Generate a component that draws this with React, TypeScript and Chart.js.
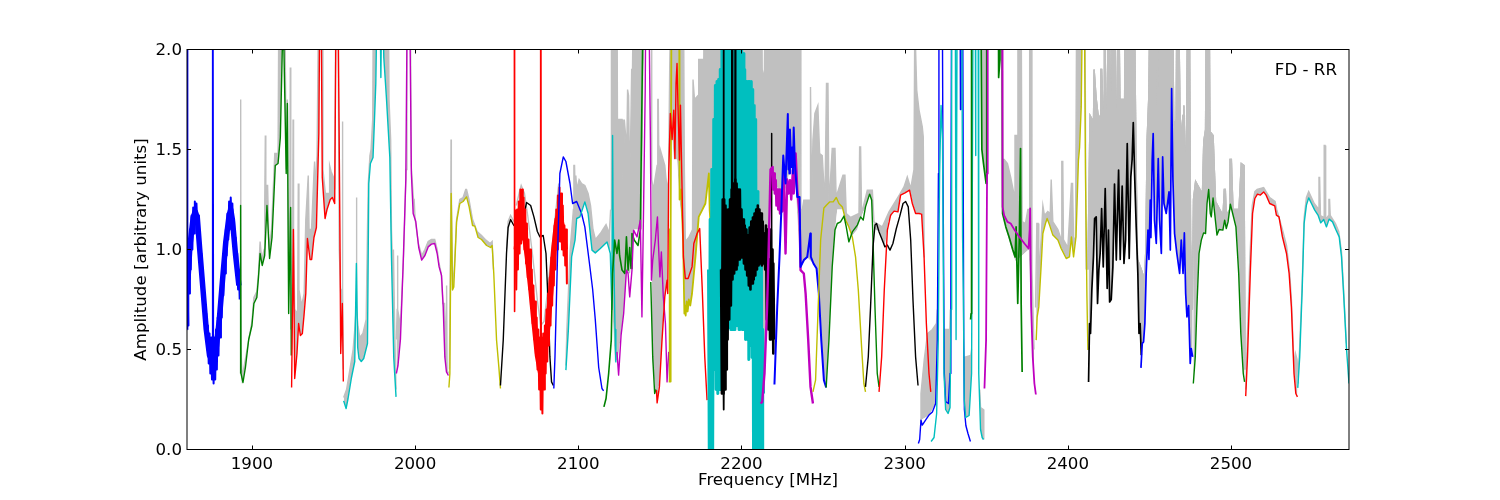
import React, { useEffect, useRef } from "react";
import { Chart, registerables } from "chart.js";
Chart.register(...registerables);

type P = number[];
const xTickValues = [1900, 2000, 2100, 2200, 2300, 2400, 2500];
const yTickValues = [0, 0.5, 1, 1.5, 2];
const xLabel = "Frequency [MHz]";
const yLabel = "Amplitude [arbitrary units]";
const note = "FD - RR";

// noisy stretches: frequency, upper amplitude, lower amplitude
const blueBand: P[] = [[1860.6,1.0,.62],[1861,1.03,.78],[1862,1.1,.9],[1863,1.17,1.0],[1864,1.21,1.08],[1865,1.24,1.13],[1866,1.23,1.12],[1867,1.17,1.04],[1868,1.08,.93],[1869,.98,.82],[1870,.87,.72],[1871,.77,.6],[1872,.68,.5],[1873,.62,.43],[1874,.58,.38],[1875,.56,.35],[1876,.54,.33],[1877,.56,.35],[1878,.6,.4],[1879,.66,.47],[1880,.73,.56],[1881,.82,.66],[1882,.92,.77],[1883,1.02,.88],[1884,1.1,.97],[1885,1.18,1.05],[1886,1.24,1.1],[1887,1.26,1.13],[1888,1.23,1.07],[1889,1.15,.98],[1890,1.06,.88],[1891,.98,.8],[1892,.9,.75]];
const blueCore: P[] = [[1860.8,.85],[1862,1.02],[1864,1.16],[1865.2,1.19],[1866.5,1.16],[1868,1.0],[1870,.8],[1872,.6],[1874,.47],[1876,.44],[1878,.5],[1880,.65],[1882,.85],[1884,1.04],[1886,1.17],[1887,1.2],[1888,1.15],[1890,.97],[1892,.82]];
const redBand: P[] = [[2061.5,1.2,.8],[2062.5,1.2,.9],[2063.5,1.24,.98],[2064.5,1.3,1.03],[2065.5,1.3,1.05],[2066.5,1.26,1.0],[2067.5,1.2,.93],[2068.5,1.13,.86],[2069.5,1.05,.8],[2070.5,1.0,.72],[2071.5,.9,.63],[2072.5,.82,.55],[2073.5,.74,.48],[2074.5,.66,.4],[2075.5,.6,.3],[2076.5,.56,.2],[2077.5,.56,.18],[2078.5,.58,.3],[2079.5,.62,.38],[2080.5,.7,.44],[2081.5,.78,.52],[2082.5,.86,.62],[2083.5,.96,.72],[2084.5,1.04,.82],[2085.5,1.12,.9],[2086.5,1.2,1.0],[2087.5,1.27,1.04],[2088.5,1.31,1.04],[2089.5,1.28,1.0],[2090.5,1.22,.97],[2091.5,1.12,.92],[2092.5,1.1,.83]];
const redCore: P[] = [[2062,1.0],[2064,1.15],[2065,1.18],[2067,1.08],[2069,.95],[2071,.8],[2073,.63],[2075,.47],[2077,.38],[2079,.46],[2081,.6],[2083,.78],[2085,1.0],[2087,1.15],[2088.5,1.18],[2090,1.12],[2092,1.0]];
const cyanBand: P[] = [[2179.8,.9,-.1],[2180.8,1.15,-.1],[2181.8,1.4,-.1],[2183,1.65,.4],[2184,1.82,.3],[2185,1.84,.28],[2186,1.85,.3],[2187,1.9,.3],[2188,2.4,.3],[2189,2.4,.35],[2190,2.4,.55],[2191,2.4,.62],[2192,2.4,.61],[2193,2.4,.6],[2194,2.4,.6],[2195,2.4,.6],[2196,2.4,.62],[2197,2.4,.62],[2198,2.4,.6],[2199,2.4,.64],[2200,2.4,.6],[2201,1.98,.6],[2202,1.9,.55],[2203,1.84,.55],[2204,1.84,.45],[2205,1.84,.52],[2206,1.84,.46],[2206.9,1.8,-.1],[2207.8,1.72,-.1],[2208.7,1.65,-.1],[2209.6,1.29,-.1],[2210.5,1.2,-.1],[2211.4,1.1,-.1],[2212.2,.95,-.1],[2213,.6,.28]];
const blackBand: P[] = [[2187.5,.9,.28],[2188.5,1.25,.28],[2189.4,1.25,.3],[2190.2,1.22,.4],[2191,1.2,.55],[2192,1.2,.65],[2193,1.25,.72],[2194,1.3,.85],[2195,1.33,.88],[2196.2,1.35,.9],[2197,1.33,.92],[2198,1.3,.95],[2199,1.3,.96],[2200,1.2,.96],[2201,1.15,.93],[2202,1.12,.9],[2203,1.1,.87],[2204,1.07,.82],[2205,1.11,.8],[2206,1.14,.83],[2207,1.16,.85],[2208,1.18,.87],[2209,1.2,.9],[2210,1.22,.92],[2211,1.2,.93],[2212,1.18,.92],[2213,1.14,.93],[2214,1.08,.9],[2215,1.12,.65],[2216,1.1,.6],[2217,.95,.55],[2218,1.1,.6],[2219,1.0,.48],[2219.5,.93,.55]];

// narrow peaks above the noisy stretches
const blueEdge: P[] = [[1860.5,.6],[1860.55,2.4]];
const blueSpike: P[] = [[1875.8,.5],[1876,2.4],[1876.3,.5]];
const redEdge: P[] = [[2060.8,2.4],[2060.95,.69],[2061.3,1.0]];
const redSpike: P[] = [[2076.8,.5],[2077,2.4],[2077.2,.5]];
const blackSpikeA: P[] = [[2188.9,.4],[2189,2.4],[2189.2,.2],[2189.4,.6]];
const blackSpikeB: P[] = [[2194,1.0],[2194.2,2.4],[2194.5,1.0]];
const blackSpikeC: P[] = [[2196,1.0],[2196.2,2.4],[2196.4,1.0]];
const blackSpikeD: P[] = [[2218.2,.7],[2218.4,1.58],[2218.6,.6]];

const green1: P[] = [[1893,.38],[1893.05,1.22],[1893.3,.38],[1894.5,.335],[1896,.41],[1898,.55],[1900,.62],[1901.2,.73],[1903,.76],[1904,.86],[1905,.98],[1906.3,.92],[1907.8,.97],[1909.2,1.22],[1910.8,.955],[1912.3,1.06],[1914.3,1.42],[1916,1.43],[1917.4,1.56],[1918.6,2.0],[1919.6,2.0],[1921,1.38],[1921.7,1.73],[1922.5,.68],[1923.7,1.21],[1924.1,.47]];
const red1: P[] = [[1924.3,.31],[1925.4,1.1],[1926.2,.355],[1927.6,.48],[1928.6,.63],[1929.7,.57],[1930.9,.58],[1931.9,.67],[1933,.78],[1934,1.055],[1935.6,.95],[1936.6,.95],[1938,1.06],[1939.5,1.11],[1941,1.58],[1941.7,2.4],[1942.3,2.4],[1943.1,1.36],[1944.8,1.155],[1946,1.2],[1948,1.25],[1949.3,1.26],[1950.7,1.23],[1951.7,2.4],[1952.6,2.4],[1953.9,1.11],[1954.4,.48],[1955.4,.73],[1956,.34]];
const cyan1: P[] = [[1956.2,.243],[1957.7,.205],[1958.9,.255],[1961,.36],[1963,.44],[1964,.93],[1964.8,.51],[1965.6,.455],[1967,.44],[1968.5,.455],[1970.8,.53],[1971.6,1.33],[1972.6,1.43],[1974.2,1.46],[1975,1.63],[1975.9,1.83],[1977,2.4],[1978.3,2.4],[1979,1.86],[1979.8,2.4],[1980.8,1.96],[1982.4,1.76],[1984.5,1.46],[1985.5,.96],[1986.9,.46],[1988.3,.263]];
const magenta1: P[] = [[1988.5,.38],[1989.5,.42],[1991,.55],[1992.6,.91],[1994.3,1.35],[1995.3,2.4],[1996.5,2.4],[1997.7,1.38],[1998.8,1.18],[2000.4,1.14],[2002.2,1.01],[2004,.947],[2006,.97],[2008,1.013],[2010,1.027],[2012,1.03],[2013.5,.98],[2014.7,.913],[2016.2,.87],[2017.2,.713],[2018.2,.463],[2019.2,.388],[2020.4,.37]];
const yellow1: P[] = [[2020.7,.31],[2021.3,.38],[2022.1,1.28],[2022.9,.797],[2023.7,.813],[2025.4,1.138],[2027.4,1.23],[2029.4,1.24],[2031.5,1.263],[2033.1,1.213],[2035.2,1.12],[2036.6,1.117],[2038.6,1.06],[2040.7,1.05],[2043.8,1.02],[2046.2,1.01],[2047.2,1.02],[2048.2,.88],[2049.9,.547],[2051.3,.413],[2052.3,.305]];
const black1: P[] = [[2052.3,.32],[2054,.547],[2056,.98],[2057,1.11],[2058.5,1.15],[2060.5,1.12],[2064,1.1],[2066,1.15],[2068.3,1.235],[2070.8,1.22],[2072.8,1.163],[2074.9,1.09],[2076.5,1.063],[2078.5,1.07],[2080.2,.98],[2081.6,.713],[2082.6,.463],[2083.6,.338],[2084.7,.32]];
const blue2: P[] = [[2085,.305],[2085.7,.463],[2087.3,.98],[2088.7,1.38],[2090.8,1.463],[2092.4,1.44],[2094.9,1.33],[2096.5,1.23],[2099,1.24],[2102,1.18],[2104,1.113],[2107,.92],[2108.8,.8],[2110.4,.65],[2112.5,.41],[2114.5,.305],[2115.5,.293]];
const cyan2: P[] = [[2092.4,.397],[2093.9,.597],[2095.9,.963],[2098,1.047],[2099,1.155],[2101,1.163],[2104,1.238],[2106,1.18],[2108.4,.997],[2110.4,.983],[2113.5,1.005],[2117.6,1.038],[2119.6,.98],[2120.6,.7],[2121,1.57],[2121.3,1.2],[2122.5,.6],[2123,.438]];
const green2: P[] = [[2115.7,.213],[2117,.255],[2118.6,.38],[2120.2,.547],[2121,.88],[2122.3,1.047],[2123.7,.98],[2124.8,1.047],[2125.3,.97],[2126.8,.897],[2128.5,.88],[2129.5,1.063],[2130.5,.897],[2131.5,1.01],[2132.3,.905],[2132.9,1.08],[2134.3,1.047],[2136.6,1.02],[2138,1.097],[2140,2.4],[2141,2.4]];
const magenta2: P[] = [[2123.7,.488],[2124.7,.372],[2126.2,.57],[2127.8,.68],[2129.5,.897],[2130.5,.88],[2131.5,.763],[2132.9,.897],[2133.9,1.097],[2136,1.063],[2138,1.147],[2139,.663],[2140,1.21],[2141,1.797],[2141.5,2.4],[2143,2.4],[2144.2,1.547],[2144.8,.847],[2145.6,.947],[2147.2,1.047],[2148.5,1.163],[2149.1,1.03],[2150,.863],[2150.9,.988],[2152.1,.763],[2153.4,.63],[2154.4,.338],[2155.4,.488]];
const green3: P[] = [[2144.4,.838],[2145.6,.463],[2146.8,.28],[2147.6,.3]];
const yellow2: P[] = [[2155.4,.34],[2155.8,.34],[2156,1.1],[2156.2,.34],[2156.4,1.1],[2156.6,.34],[2156.8,1.1],[2157.2,2.4],[2161.8,2.4],[2161.9,1.66],[2162.2,1.25],[2163,1.3],[2164.2,1.05],[2165,.68],[2165.4,.72],[2165.8,.67],[2166.4,.74],[2167,.69],[2167.7,.75],[2168.6,.72],[2169.7,.78],[2171.8,.963],[2173.8,1.163],[2175.9,1.197],[2177.9,1.23],[2180,1.38],[2180.5,1.197],[2182,1.013],[2184,.78],[2185.7,.58],[2186.7,.33]];
const red3: P[] = [[2147.9,.297],[2148.3,.233],[2149.7,.313],[2151.3,.547],[2153,.763],[2154.4,.847],[2154.8,.78],[2155.4,1.38],[2156.4,1.68],[2157.5,1.55],[2158.5,1.697],[2159.2,1.455],[2159.9,1.83],[2160.5,1.93],[2161.1,1.713],[2162,1.447],[2162.6,1.722],[2163.4,1.38],[2164.4,.963],[2165.6,.855],[2167.3,.855],[2169.7,.913],[2170.8,1.03],[2172.8,1.08],[2174.4,1.105],[2175.9,.813],[2177.5,.463],[2178.9,.247]];
const magenta3: P[] = [[2211.7,.23],[2212.7,.238],[2214.1,.38],[2215.7,.713],[2216.8,1.05],[2217.8,1.4],[2219.1,1.413],[2219.4,1.3],[2220,1.38],[2220.4,1.28],[2221,1.347],[2221.4,1.22],[2222,1.3],[2222.5,1.2],[2223,1.3],[2223.6,1.18],[2224.5,1.23],[2224.9,1.19],[2225.9,1.38],[2227,.98],[2228,1.35],[2228.8,1.28],[2229.7,1.347],[2230.5,1.25],[2231.5,1.397],[2232,1.28],[2233.2,1.48],[2234.2,1.297],[2235.6,1.18],[2236.2,.897],[2238.2,.88],[2239.3,.78],[2240.9,.547],[2242.3,.313],[2243.8,.23]];
const blue3: P[] = [[2220.2,.325],[2221.9,.713],[2223.3,.963],[2224.5,1.213],[2225.6,1.47],[2227,1.33],[2228.4,1.677],[2228.8,1.4],[2229,1.55],[2229.4,1.38],[2229.7,1.6],[2230.5,1.413],[2231,1.51],[2231.5,1.38],[2232,1.61],[2232.7,1.43],[2234.2,1.263],[2235.6,1.263],[2236.2,.913],[2238.2,.947],[2240.3,.963],[2242.2,1.08],[2242.5,.963],[2244.1,.93],[2246,.905],[2247.4,.78],[2248.9,.547],[2250.5,.347],[2251.9,.31]];
const yellow3: P[] = [[2243.8,.288],[2245.4,.347],[2247,.713],[2248.5,1.047],[2250.5,1.208],[2251.9,1.22],[2254,1.238],[2256.2,1.238],[2258.1,1.26],[2259.7,1.23],[2261.8,1.213],[2263.8,1.147],[2265.8,1.113],[2267.9,1.063],[2269.9,.963],[2271.6,.797],[2273.6,.513],[2275,.33],[2276,.288]];
const green4: P[] = [[2251.9,.31],[2253.6,.547],[2255.6,.913],[2257.3,1.097],[2258.7,1.13],[2260.7,1.138],[2262.8,1.167],[2264.2,1.113],[2265.8,1.038],[2267.9,1.088],[2271,1.122],[2273,1.163],[2274.6,1.147],[2276,1.213],[2278.5,1.277],[2279.8,1.247],[2280.6,1.047],[2281.8,.713],[2283.2,.38],[2284.3,.313]];
const black2: P[] = [[2276,.313],[2277.7,.463],[2279.1,.713],[2280.6,1.013],[2281.8,1.122],[2282.8,1.13],[2284.3,1.088],[2286.3,1.047],[2287.9,1.013],[2289.4,1.022],[2291,.997],[2292.8,1.03],[2294.9,1.105],[2296.9,1.163],[2299,1.23],[2300.6,1.24],[2302.2,1.213],[2303.7,1.047],[2305.1,.747],[2306.7,.463],[2308.2,.32]];
const red4: P[] = [[2284.3,.288],[2285.9,.463],[2287.5,.797],[2289.4,1.097],[2291.4,1.172],[2293.5,1.192],[2295.9,1.188],[2297.5,1.272],[2300.2,1.283],[2303,1.297],[2304.7,1.23],[2306.7,1.18],[2308.8,1.18],[2310.4,1.177],[2311.9,.963],[2313.3,.63],[2314.9,.38],[2316,.288]];
const blue4: P[] = [[2308.4,.03],[2309.2,.05],[2310,.147],[2310.8,.122],[2312.8,.147],[2314.9,.172],[2317,.188],[2319,.23],[2320,.547],[2320.7,1.38],[2321,2.4],[2323,2.4],[2323.5,1.38],[2324.3,.38],[2325.1,.24],[2326.8,.23],[2327.8,.38],[2328.3,1.0],[2328.8,2.4],[2333.9,2.4],[2334.2,1.7],[2334.5,2.4],[2335.5,2.4],[2336.2,.55],[2336.6,.2],[2337.5,.12],[2338.8,.08],[2340.3,.04]];
const cyan4: P[] = [[2316.2,.04],[2318,.06],[2319.6,.18],[2320.6,.55],[2321.4,1.38],[2322.3,1.72],[2323.2,1.55],[2324.1,.38],[2325.1,.2],[2326.6,.18],[2327.8,.21],[2328.4,.7],[2328.8,2.4],[2331,2.4],[2331.5,.55],[2331.9,.55],[2332.2,2.4],[2335,2.4],[2335.5,1.06],[2335.7,1.06],[2336,.75],[2336.5,.25],[2337.4,.16],[2339.5,.17],[2341,.38],[2342,2.4],[2343.2,2.4],[2343.4,1.47],[2343.7,2.4],[2345,2.4],[2345.4,.38],[2346.5,.1],[2347.5,.06],[2348.3,.05]];
const green6: P[] = [[2340.4,.65],[2340.7,.68],[2341,2.4],[2346.6,2.4],[2347.3,1.5],[2348.3,1.43],[2349.9,1.33],[2350.3,2.4],[2357.4,2.4],[2357.6,1.86],[2358.4,1.95],[2358.6,2.4],[2359.6,2.4],[2360,1.18],[2362,1.113],[2364,1.063],[2366.3,.997],[2367.7,.963],[2368.3,1.113],[2369.3,.73],[2370.3,1.08],[2371,1.505],[2371.4,.73],[2372,.388]];
const magenta4: P[] = [[2348.9,.305],[2349.9,.547],[2350.5,1.38],[2350.9,2.4],[2359.7,2.4],[2360,1.213],[2361,1.17],[2363,1.138],[2365,1.13],[2367.4,1.097],[2370.3,1.063],[2373.4,1.03],[2375.9,1.005],[2376.6,1.1],[2376.9,1.205],[2377.5,.713],[2378.5,.463],[2379.5,.33],[2380.4,.275]];
const yellow4: P[] = [[2380.6,.547],[2381.2,.663],[2382.2,.713],[2383.6,.913],[2384.7,1.08],[2386.3,1.13],[2387.3,1.155],[2388.8,1.122],[2390.8,1.072],[2393.9,1.047],[2395.9,1.005],[2399,.955],[2401,.963],[2402.2,1.063],[2403.5,.963],[2405,1.063],[2406.5,1.447],[2407.2,1.51],[2408.2,1.713],[2409.2,2.4],[2410,2.4],[2410.8,1.38],[2411.7,.763],[2412.3,.497]];
const black3: P[] = [[2412.7,.338],[2413.3,.63],[2413.9,.58],[2414.7,.797],[2415.7,.963],[2416.4,1.155],[2417.4,1.163],[2418.2,.73],[2419,.897],[2419.8,.98],[2420.7,1.205],[2421.7,.913],[2422.9,1.305],[2424.1,.805],[2424.9,1.097],[2425.6,.738],[2426.6,.75],[2427.6,.913],[2428.6,1.327],[2429.7,.947],[2431.1,1.397],[2432.1,.95],[2433.3,1.317],[2434.4,.93],[2435.4,1.05],[2436.4,1.53],[2437.6,.955],[2438.6,1.363],[2439.4,1.45],[2440.1,1.635],[2440.9,1.38],[2441.9,1.113],[2442.9,.88],[2443.6,.58],[2444.3,.63],[2445,.472]];
const blue5: P[] = [[2444.8,.408],[2445.6,.53],[2446.4,.538],[2447.2,.63],[2448,.88],[2449.1,1.097],[2449.7,.95],[2450.5,1.247],[2450.9,1.06],[2451.7,1.447],[2452.3,1.58],[2453.1,1.147],[2454.2,1.03],[2455.4,1.455],[2456.2,1.147],[2457.3,.98],[2458.1,1.463],[2458.9,1.23],[2460.3,1.18],[2462,1.288],[2462.8,.997],[2463.6,1.805],[2464.4,1.347],[2465.4,1.08],[2466.8,.98],[2468.5,.88],[2469.5,1.047],[2470.6,.88],[2471.4,1.083],[2472.2,.78],[2473,.663],[2474,.72],[2475,.43],[2475.6,.505],[2476.5,.463]];
const green5: P[] = [[2476.9,.33],[2478.1,.463],[2479.1,.713],[2480.4,.98],[2481.8,1.047],[2483.2,1.083],[2484.4,1.08],[2485.3,1.23],[2486.3,1.3],[2487.3,1.18],[2487.9,1.163],[2489,1.258],[2490.2,1.163],[2491.4,1.072],[2492.7,1.1],[2495,1.097],[2496.1,1.147],[2497.1,1.105],[2498.2,1.138],[2499.6,1.227],[2501,1.18],[2503,1.113],[2504.7,.88],[2506,.58],[2507.5,.38],[2508.3,.338]];
const red5: P[] = [[2509,.267],[2510.1,.463],[2511.8,.88],[2513.2,1.18],[2514.6,1.255],[2516.2,1.277],[2518,1.272],[2520,1.288],[2521.5,1.272],[2523.7,1.23],[2526.8,1.218],[2527.8,1.172],[2529.4,1.163],[2531.5,1.063],[2534,.98],[2535.6,.88],[2537,.713],[2538.6,.38],[2539.7,.28],[2540.7,.263]];
const cyan5: P[] = [[2540.9,.308],[2542.1,.463],[2543.6,.797],[2544.8,1.13],[2546.2,1.222],[2547.6,1.258],[2549.3,1.23],[2551.3,1.197],[2553.3,1.172],[2555,1.133],[2556.8,1.15],[2558.5,1.113],[2560.1,1.152],[2562.2,1.138],[2564.2,1.1],[2566.3,1.063],[2567.7,.963],[2569.1,.763],[2570.7,.513],[2572.3,.33]];

// silver trace: upper edges
const grayTopGreen1: P[] = [[1893,1.22],[1893.1,1.75],[1893.3,.5],[1894,.36],[1900,.64],[1901.2,.76],[1903,.79],[1904,.88],[1905,1.04],[1906,.95],[1907.5,1.0],[1907.8,1.2],[1908.2,1.57],[1908.5,1.2],[1909,1.32],[1909.6,1.32],[1910.5,1.0],[1912,1.1],[1914,1.48],[1916,1.48],[1916.6,2.4],[1920,2.4],[1921,1.4],[1921.7,1.75],[1922.5,.9],[1923.2,1.2],[1923.5,1.91],[1923.8,.6]];
const grayTopRed1: P[] = [[1924.3,.5],[1925,1.1],[1925.2,1.65],[1925.5,1.1],[1926.2,.7],[1928,.68],[1928.4,1.33],[1928.8,.8],[1930.5,.72],[1932,.78],[1933,1.15],[1934.5,1.37],[1935,1.1],[1936.5,1.1],[1938,1.38],[1938.4,1.44],[1938.8,1.3],[1939.9,1.47],[1941,2.4],[1943,2.4],[1943.5,1.4],[1945,1.28],[1947.4,1.28],[1947.6,1.42],[1948.5,1.39],[1950,1.36],[1950.7,1.3],[1951.5,2.4],[1952.6,2.4],[1953.5,1.0],[1954.5,.75],[1955.2,.8],[1955.4,1.64],[1955.7,.8],[1956,.4]];
const grayTopCyan1: P[] = [[1956.2,.26],[1958,.3],[1960,.4],[1962,.5],[1963,.6],[1963.8,.7],[1964,1.26],[1964.3,.7],[1965,.62],[1966,.56],[1968,.58],[1970,.65],[1970.8,1.1],[1971.3,1.33],[1972.3,1.47],[1973,1.5],[1974,1.65],[1974.5,2.4],[1983.5,2.4],[1984,1.75],[1985,1.55],[1985.5,1.1],[1986.3,.9],[1986.7,1.0],[1987.5,.6],[1988.3,.3]];
const grayTopMagenta1: P[] = [[1988.5,.55],[1989,.7],[1989.2,.97],[1989.4,.7],[1991,.62],[1993,.98],[1994.5,1.4],[1995,2.4],[1997,2.4],[1997.6,1.42],[1999,1.25],[1999.4,1.25],[2000,1.15],[2002,1.03],[2004,.97],[2006,1.0],[2008,1.04],[2010,1.05],[2012,1.05],[2013.5,1.0],[2014.7,.93],[2016,.88],[2017,.73],[2018,.73],[2019.1,.5],[2019.3,.82],[2019.6,.4],[2020.4,.38]];
const grayTopYellow1: P[] = [[2021,.4],[2021.9,1.3],[2022,1.55],[2022.2,1.3],[2023,.82],[2024,.9],[2025.4,1.15],[2027.4,1.25],[2029.4,1.26],[2031,1.3],[2031.5,1.3],[2033,1.25],[2035.2,1.15],[2038,1.09],[2040.7,1.07],[2043,1.05],[2046,1.03],[2047.2,1.04],[2048,.9]];
const grayTopBlack1: P[] = [[2056,1.0],[2057,1.14],[2058.5,1.17],[2060.5,1.14]];
const grayTopRed2: P[] = [[2062,1.22],[2064,1.29],[2065,1.32],[2067,1.28],[2069,1.17],[2072,.97],[2075,.74],[2077,.62],[2079,.64],[2081,.78],[2084,1.02],[2088,1.33]];
const grayTopCyan2: P[] = [[2092.4,.42],[2093,.6],[2094,.8],[2095,1.0],[2096,1.1],[2097,1.2],[2097.3,1.42],[2097.7,1.42],[2098.2,1.25],[2098.5,1.37],[2099,1.3],[2100.5,1.35],[2102,1.33],[2104,1.32],[2106,1.28],[2107.5,1.22],[2109,1.1],[2110.5,1.05],[2113.5,1.08],[2115,1.1],[2117,1.125],[2119,1.08],[2119.8,1.2]];
const grayTopMiddle: P[] = [[2120.2,1.2],[2120.3,2.4],[2123.7,2.4],[2124,1.65],[2126.8,1.65],[2127.3,1.35],[2127.8,1.35],[2128.2,1.65],[2128.6,1.65],[2129.7,1.5],[2130.2,1.8],[2130.8,1.77],[2131.4,1.4],[2132,1.52],[2132.7,1.9],[2133.2,1.9],[2133.9,2.4],[2144.8,2.4],[2145,1.35],[2146,1.3],[2148.3,1.42],[2148.7,1.75],[2149,1.75],[2149.5,1.35],[2150.2,1.5],[2153,1.42],[2154.4,1.3],[2155.3,1.35],[2156,1.9],[2157,2.4],[2164.4,2.4],[2165,1.4],[2165.6,1.04],[2167.7,1.06],[2170,1.1],[2170.3,1.85],[2170.8,1.85],[2171.2,1.75],[2173.4,1.77],[2173.8,1.95],[2176.9,1.95],[2177.2,2.4],[2212.4,2.4],[2212.7,1.9],[2214,1.85],[2214.5,2.4],[2216.3,2.4],[2216.6,1.58],[2216.9,2.4],[2236,2.4],[2236.4,1.2]];
const grayBaseMiddle: P[] = [[2120.2,.85],[2122.3,.44],[2124.3,.45],[2126.2,.58],[2127.8,.68],[2129.5,.88],[2131.9,.88],[2133.9,1.1],[2139,1.1],[2140.1,1.9],[2141.5,2.4],[2144.8,2.4],[2145.2,.46],[2147,.3],[2148.4,.25],[2150.3,.38],[2152.5,.72],[2154.4,.85],[2156.4,1.7],[2158.5,1.45],[2160.5,1.45],[2162,1.25],[2164.5,1.04],[2165,.69],[2167.7,.7],[2169.7,.78],[2171.8,.96],[2173.8,1.16],[2177.9,1.23],[2180,1.38],[2182,1.01],[2184,.78],[2185.7,.58],[2187,.3],[2190,.3],[2192,.6],[2195,.61],[2201,.61],[2206,.58],[2210,.38],[2212.7,.25],[2214.7,.38],[2216.8,1.05],[2219,1.4],[2224.5,1.23],[2227,1.3],[2232,1.48],[2236,.9]];
const grayTopRight: P[] = [[2236.4,1.2],[2237.2,1.197],[2238.2,1.247],[2242.1,1.247],[2242.3,1.813],[2243,1.247],[2243.8,1.55],[2245,1.68],[2246.8,1.72],[2247.9,1.48],[2249.5,1.47],[2251.1,1.23],[2252.1,1.83],[2253,1.83],[2253.6,1.213],[2255.6,1.505],[2257.3,1.505],[2258,1.263],[2262.2,1.372],[2263.4,1.372],[2264.2,1.18],[2266.9,1.16],[2272,1.18],[2272.4,1.513],[2273,1.513],[2273.6,1.18],[2277.1,1.297],[2280.2,1.297],[2281.2,1.138],[2286.3,1.113],[2290.4,1.188],[2296.5,1.27],[2299.6,1.313],[2301.6,1.363],[2303.7,1.305],[2305.7,1.4],[2306.1,2.0],[2306.7,2.0],[2307.4,1.797],[2308.8,1.697],[2310.8,1.613],[2311.4,1.563],[2312,.96]];
const grayBaseRight: P[] = [[2236.2,.91],[2240.3,.96],[2244,.93],[2246,.9],[2247.4,.78],[2249,.55],[2250.5,.35],[2251.9,.31],[2253.6,.55],[2255.6,.91],[2257.3,1.09],[2258.7,1.2],[2262,1.2],[2266,1.1],[2268,1.07],[2271,1.1],[2273,1.16],[2276,1.21],[2278.5,1.28],[2280,1.2],[2281.8,1.1],[2284.3,1.09],[2286,1.04],[2288,1.02],[2290,1.14],[2293.5,1.19],[2296,1.19],[2297.5,1.27],[2303,1.3],[2305,1.23],[2306.7,1.18],[2310.4,1.18],[2311.9,.96]];
const grayTopDip: P[] = [[2309.5,.12],[2310,.28],[2312,.45],[2314,.58],[2317,.6],[2319.5,.63],[2320,.7]];
const grayBaseDip: P[] = [[2308.5,.03],[2310,.147],[2315,.17],[2319,.23],[2320,.55]];
const grayTopCyan4a: P[] = [[2324.1,.4],[2324.8,.6],[2327.6,.6],[2328,.7]];
const grayTopCyan4b: P[] = [[2336.2,.46],[2340.5,.47],[2341,.5]];
const grayTopCyan4c: P[] = [[2346,.3],[2346.5,.21],[2348.3,.2],[2348.5,.05]];
const grayTopGreen6: P[] = [[2346.8,2.4],[2350.3,2.4]];
const grayTopLate: P[] = [[2359.8,1.45],[2361,1.45],[2363,1.43],[2365,1.36],[2367.4,1.26],[2367.6,1.57],[2369,1.57],[2369.4,2.4],[2371.3,2.4],[2372,1.14],[2374,1.13],[2375.5,1.2],[2376.3,1.2],[2376.6,2.4],[2377.6,2.4],[2378,.9],[2379.3,.5]];
const grayBaseLate: P[] = [[2360,1.17],[2362,1.1],[2367,.96],[2368,.94],[2372,.97],[2376,1.0],[2377,.75],[2378.5,.46],[2380,.3]];
const grayTopYellow4: P[] = [[2380.2,.71],[2381,1.13],[2381.8,1.13],[2382.2,.83],[2383.6,1.05],[2384.7,1.22],[2385.7,1.17],[2387.7,1.19],[2389.2,1.18],[2389.8,1.35],[2390.2,1.35],[2390.8,1.14],[2393.9,1.1],[2395.9,1.05],[2396.3,1.44],[2396.9,1.44],[2397.3,1.05],[2400,1.01],[2402.2,1.33],[2402.9,1.33],[2403.5,1.05],[2404.7,1.06],[2405.5,2.4],[2410.4,2.4],[2411.2,.9]];
const grayTopFar: P[] = [[2412.3,.9],[2413.6,1.67],[2414.9,1.65],[2415.6,1.55],[2416.1,1.9],[2416.6,1.9],[2417.3,1.76],[2418.4,1.68],[2419.9,1.65],[2420.2,1.9],[2420.7,1.9],[2421.7,1.66],[2422.2,1.66],[2422.4,2.0],[2422.8,2.0],[2423.6,1.67],[2424.2,1.67],[2424.4,2.4],[2425.2,2.4],[2426.2,1.69],[2426.9,1.69],[2427.2,2.4],[2428.4,2.4],[2429.6,1.7],[2430.2,1.7],[2430.5,2.4],[2431,2.4],[2431.9,1.75],[2434.8,1.75],[2435.2,2.4],[2440.6,2.4],[2441.7,1.5],[2442.7,.95],[2445,.9],[2447,.85],[2447.8,1.0],[2448.6,1.55],[2449.6,1.76],[2450.6,2.4],[2453.3,2.4],[2453.9,1.55],[2454.6,2.4],[2455.7,2.4],[2455.9,1.6],[2456.3,2.4],[2464,2.4],[2464.9,1.62],[2466.4,1.65],[2466.9,2.4],[2467.6,2.4],[2469,1.54],[2470.6,1.67],[2471.1,1.72],[2471.8,1.47],[2472.6,1.47],[2473.6,2.4],[2474.4,2.4],[2475.2,1.05],[2476.3,.7],[2477,1.25],[2478.3,1.34],[2481,1.3],[2482.5,1.28],[2483.3,1.54],[2484.4,1.6],[2485,2.4],[2486.5,2.4],[2487.2,1.4],[2488,1.58],[2489,1.57],[2490.5,1.24],[2495.1,1.17],[2495.9,1.3],[2496.5,1.3],[2497.1,1.17],[2499.2,1.2],[2499.4,1.45],[2500.2,1.45],[2501.2,1.2],[2504.9,1.2],[2506.3,1.43],[2508,1.42],[2508.6,.4]];
const grayTopRed5: P[] = [[2509,.3],[2511.5,.95],[2513,1.22],[2514.6,1.29],[2516,1.3],[2520,1.31],[2523.7,1.26],[2527,1.24],[2528,1.2],[2531.5,1.1],[2534,1.02],[2536,.88],[2537,.75],[2538.6,.42],[2539.5,.48],[2540.5,.45],[2541.3,.33]];
const grayTopCyan5: P[] = [[2541,.36],[2542,.5],[2543.6,.83],[2544.8,1.16],[2546.2,1.26],[2547.6,1.29],[2551,1.23],[2553.8,1.2],[2553.9,1.36],[2554.3,1.36],[2554.8,1.17],[2557,1.16],[2557.1,1.52],[2557.6,1.52],[2558,1.15],[2559.8,1.17],[2560,1.25],[2560.4,1.25],[2560.8,1.17],[2564,1.13],[2566,1.09],[2567.7,.99],[2569,.8],[2570.7,.53]];

const B = "#0000ff", G = "#008000", R = "#ff0000", C = "#00bfbf", M = "#bf00bf", Y = "#bfbf00", K = "#000000", S = "#c0c0c0";

const zig = (band: P[]): P[] => band.flatMap(([f, hi, lo]) => [[f, hi], [f + 0.5, lo]]);
const pts = (a: P[]) => a.map(([x, y]) => ({ x, y }));

const lineSegments: [P[], string, number][] = [
  [zig(blueBand), B, 2],[blueCore, B, 5.5],[blueEdge, B, 1.6],[blueSpike, B, 1.8],
  [green1, G, 1.4],[red1, R, 1.4],[cyan1, C, 1.4],[magenta1, M, 1.4],[yellow1, Y, 1.4],[black1, K, 1.4],
  [zig(redBand), R, 2],[redCore, R, 5.5],[redEdge, R, 1.6],[redSpike, R, 1.8],
  [blue2, B, 1.4],[cyan2, C, 1.4],[green2, G, 1.6],[magenta2, M, 1.4],[green3, G, 1.4],
  [yellow2, Y, 1.8],[red3, R, 1.4],[zig(cyanBand), C, 3],[zig(blackBand), K, 2.6],
  [blackSpikeA, K, 1.8],[blackSpikeB, K, 1.8],[blackSpikeC, K, 1.8],[blackSpikeD, K, 1.5],
  [magenta3, M, 2.4],[blue3, B, 2],[yellow3, Y, 1.4],[green4, G, 1.4],[black2, K, 1.4],[red4, R, 1.4],
  [blue4, B, 1.4],[cyan4, C, 1.4],[green6, G, 1.7],[magenta4, M, 1.8],[yellow4, Y, 1.4],[black3, K, 1.7],[blue5, B, 1.7],[green5, G, 1.4],[red5, R, 1.4],[cyan5, C, 1.4],
];
const grayLines: (P[] | null)[][] = [
  [grayTopGreen1, green1],[grayTopRed1, red1],[grayTopCyan1, cyan1],[grayTopMagenta1, magenta1],[grayTopYellow1, yellow1],
  [grayTopBlack1, null],[grayTopRed2, null],[grayTopCyan2, cyan2],[grayTopMiddle, grayBaseMiddle],[grayTopRight, grayBaseRight],
  [grayTopDip, grayBaseDip],[grayTopCyan4a, cyan4],[grayTopCyan4b, cyan4],[grayTopCyan4c, cyan4],[grayTopGreen6, green6],
  [grayTopLate, grayBaseLate],[grayTopYellow4, yellow4],[grayTopFar, black3],[grayTopFar, blue5],[grayTopFar, green5],[grayTopRed5, red5],[grayTopCyan5, cyan5],
];

const framePlugin = {
  id: "frame",
  afterDatasetsDraw(chart: any) {
    const { ctx, chartArea: a, scales } = chart;
    ctx.save();
    ctx.strokeStyle = "#000";
    ctx.lineWidth = 1;
    ctx.strokeRect(a.left, a.top, a.right - a.left, a.bottom - a.top);
    ctx.beginPath();
    for (const t of scales.x.ticks) {
      const p = Math.round(scales.x.getPixelForValue(t.value)) + 0.5;
      ctx.moveTo(p, a.bottom); ctx.lineTo(p, a.bottom - 4);
      ctx.moveTo(p, a.top); ctx.lineTo(p, a.top + 4);
    }
    for (const t of scales.y.ticks) {
      const p = Math.round(scales.y.getPixelForValue(t.value) - 0.5) + 0.5;
      ctx.moveTo(a.left, p); ctx.lineTo(a.left + 4, p);
      ctx.moveTo(a.right, p); ctx.lineTo(a.right - 4, p);
    }
    ctx.stroke();
    ctx.fillStyle = "#000";
    ctx.font = "16.67px 'DejaVu Sans'";
    ctx.textAlign = "right";
    ctx.textBaseline = "middle";
    ctx.fillText(note, a.right - 12, a.top + 21);
    ctx.restore();
  },
};

export default function App() {
  const ref = useRef<HTMLCanvasElement | null>(null);
  useEffect(() => {
    document.body.style.margin = "0";
    Chart.defaults.font.family = "'DejaVu Sans'";
    const colored = lineSegments.map(([d, c, w], i) => ({
      data: pts(d), showLine: true, borderColor: c, borderWidth: w, pointRadius: 0, fill: false, order: -i, tension: 0, borderJoinStyle: "round",
    }));
    const extra: any[] = [];
    const grays = grayLines.map(([top, base], i) => {
      let fill: any = false;
      if (base) {
        const found = lineSegments.findIndex((s) => s[0] === base);
        if (found >= 0) fill = { target: found, above: S, below: "rgba(0,0,0,0)" };
        else {
          extra.push({ data: pts(base), showLine: true, borderWidth: 0, borderColor: "rgba(0,0,0,0)", pointRadius: 0, fill: false, order: 2000 });
          fill = { target: lineSegments.length + grayLines.length + extra.length - 1, above: S, below: "rgba(0,0,0,0)" };
        }
      }
      return { data: pts(top as P[]), showLine: true, borderColor: S, borderWidth: 1.4, pointRadius: 0, fill, order: 1000 + i, tension: 0 };
    });
    const chart = new Chart(ref.current as HTMLCanvasElement, {
      type: "scatter",
      data: { datasets: [...colored, ...grays, ...extra] as any },
      plugins: [framePlugin],
      options: {
        animation: false,
        responsive: false,
        devicePixelRatio: 1,
        layout: { padding: { top: 49.5, left: 132, right: 151, bottom: 9 } },
        plugins: { legend: { display: false }, tooltip: { enabled: false } },
        scales: {
          x: {
            type: "linear", min: 1860.2, max: 2572.3,
            grid: { display: false, drawTicks: false }, border: { display: false },
            title: { display: true, text: xLabel, color: "#000", font: { size: 16.67 }, padding: 0 },
            ticks: { color: "#000", font: { size: 16.67 }, padding: 5, maxRotation: 0, autoSkip: false, callback: (v: any) => String(v) },
            afterBuildTicks: (s: any) => { s.ticks = xTickValues.map((value) => ({ value })); },
            afterFit: (s: any) => { s.height = 41.5; },
          },
          y: {
            type: "linear", min: 0, max: 2,
            grid: { display: false, drawTicks: false }, border: { display: false },
            title: { display: true, text: yLabel, color: "#000", font: { size: 16.67 }, padding: 0 },
            ticks: { color: "#000", font: { size: 16.67 }, padding: 5, labelOffset: 1, autoSkip: false, callback: (v: any) => Number(v).toFixed(1) },
            afterBuildTicks: (s: any) => { s.ticks = yTickValues.map((value) => ({ value })); },
            afterFit: (s: any) => { s.width = 55; },
          },
        },
      } as any,
    });
    return () => chart.destroy();
  }, []);
  return <canvas ref={ref} width={1500} height={500} style={{ display: "block" }} />;
}
